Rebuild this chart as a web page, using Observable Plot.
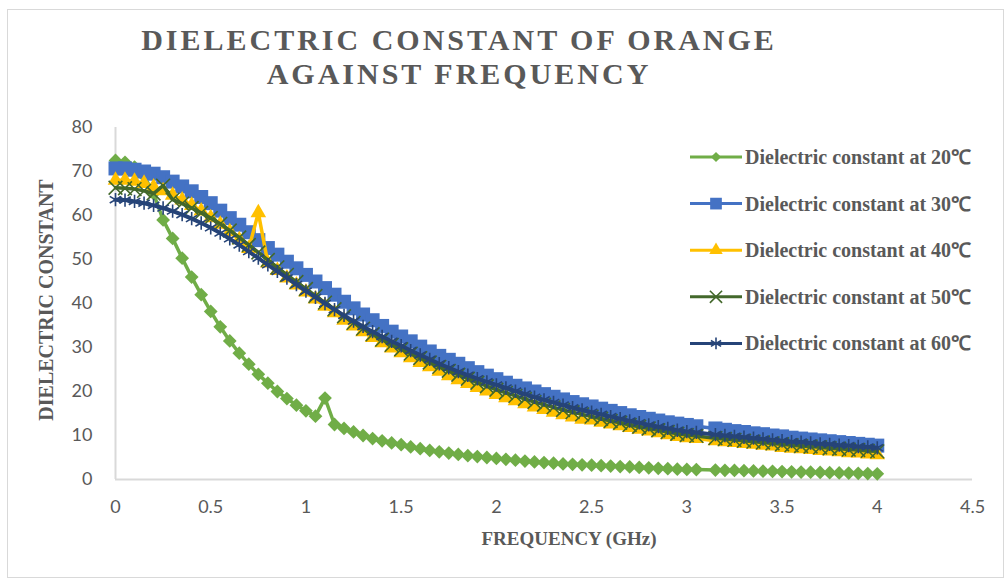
<!DOCTYPE html>
<html>
<head>
<meta charset="utf-8">
<script src="https://cdn.jsdelivr.net/npm/d3@7"></script>
<script src="https://cdn.jsdelivr.net/npm/@observablehq/plot@0.6"></script>
<style>
  body { margin: 0; background: #fff; }
  #wrap { position: relative; width: 1007px; height: 580px; overflow: hidden; background: #fff; }
  #frame { position: absolute; left: 7px; top: 9px; width: 997px; height: 569px; border: 1px solid #d9d9d9; box-sizing: border-box; }
  #wrap svg { position: absolute; left: 0; top: 0; }
</style>
</head>
<body>
<div id="wrap"><div id="frame"></div></div>
<script>
// ---- data ----
const freq = [0,0.05,0.1,0.15,0.2,0.25,0.3,0.35,0.4,0.45,0.5,0.55,0.6,0.65,0.7,0.75,0.8,0.85,0.9,0.95,
  1,1.05,1.1,1.15,1.2,1.25,1.3,1.35,1.4,1.45,1.5,1.55,1.6,1.65,1.7,1.75,1.8,1.85,1.9,1.95,
  2,2.05,2.1,2.15,2.2,2.25,2.3,2.35,2.4,2.45,2.5,2.55,2.6,2.65,2.7,2.75,2.8,2.85,2.9,2.95,
  3,3.05,3.1,3.15,3.2,3.25,3.3,3.35,3.4,3.45,3.5,3.55,3.6,3.65,3.7,3.75,3.8,3.85,3.9,3.95,4];

const eps20 = [72.5,72.1,71.0,69.0,65.0,59.0,54.8,50.3,46.0,42.0,
  38.2,34.7,31.5,28.7,26.2,23.9,21.9,20.0,18.4,16.9,
  15.6,14.4,18.5,12.5,11.6,10.8,10.0,9.3,8.8,8.3,
  7.9,7.4,7.0,6.6,6.3,6.0,5.7,5.4,5.2,5.0,
  4.8,4.6,4.4,4.2,4.0,3.85,3.7,3.55,3.45,3.35,
  3.25,3.15,3.05,2.95,2.85,2.75,2.65,2.55,2.45,2.35,
  2.3,2.25,null,2.15,2.1,2.05,2.0,1.95,1.9,1.85,
  1.8,1.75,1.7,1.65,1.6,1.55,1.5,1.45,1.4,1.35,1.3];

const eps30 = [70.7,70.7,70.4,70.0,69.5,68.7,67.7,66.6,65.5,64.2,
  62.8,61.1,59.4,57.9,56.2,54.4,52.6,51.1,49.5,48.0,
  46.5,45.0,43.5,42.0,40.4,38.9,37.5,36.2,34.9,33.6,
  32.5,31.4,30.2,29.1,28.1,27.2,26.3,25.3,24.4,23.6,
  22.8,22.0,21.3,20.7,20.0,19.4,18.8,18.2,17.6,17.1,
  16.6,16.1,15.6,15.1,14.6,14.2,13.8,13.4,13.0,12.7,
  12.4,12.1,null,11.6,11.3,11.0,10.8,10.5,10.3,10.0,
  9.8,9.5,9.3,9.1,8.9,8.7,8.5,8.3,8.1,7.9,7.7];

const eps40 = [68.0,68.0,67.8,67.3,66.5,65.6,64.6,63.5,62.3,61.0,
  59.5,58.0,56.3,54.5,52.5,60.6,49.2,47.5,45.8,44.2,
  42.6,41.0,39.4,37.9,36.2,34.9,33.6,32.3,31.1,29.9,
  28.8,27.7,26.6,25.6,24.6,23.6,22.7,21.8,20.9,20.1,
  19.3,18.6,17.9,17.2,16.5,15.9,15.3,14.7,14.2,13.7,
  13.5,13.0,12.6,12.2,11.8,11.4,11.0,10.6,10.2,9.8,
  9.5,9.3,null,8.8,8.6,8.4,8.2,8.0,7.8,7.6,
  7.3,7.1,7.0,6.8,6.6,6.5,6.3,6.1,6.0,5.8,5.6];

const eps50 = [66.3,66.2,66.0,65.6,65.0,66.8,63.6,62.7,61.7,60.6,
  59.4,58.1,56.6,55.0,53.3,51.6,49.9,48.2,46.5,44.9,
  43.3,41.7,40.2,38.7,37.1,35.6,34.3,33.0,31.8,30.6,
  29.6,28.6,27.6,26.6,25.6,24.7,23.8,22.9,22.0,21.2,
  20.4,19.7,19.0,18.3,17.6,17.0,16.4,15.8,15.3,14.8,
  14.3,13.8,13.3,12.9,12.4,12.0,11.6,11.2,10.8,10.4,
  10.1,9.9,null,9.4,9.2,9.0,8.8,8.6,8.4,8.2,
  8.0,7.8,7.6,7.5,7.3,7.1,7.0,6.8,6.7,6.5,6.4];

const eps60 = [63.6,63.5,63.2,62.8,62.3,61.7,61.0,60.2,59.3,58.3,
  57.2,56.0,54.7,53.3,51.8,50.3,48.8,47.3,45.8,44.3,
  42.8,41.4,40.0,38.6,37.3,36.0,34.8,33.6,32.5,31.4,
  30.4,29.3,28.3,27.3,26.3,25.4,24.5,23.7,22.9,22.2,
  21.5,20.8,20.1,19.4,18.7,18.1,17.5,16.9,16.3,15.8,
  15.3,14.8,14.3,13.8,13.3,12.9,12.4,12.0,11.6,11.2,
  10.9,10.7,null,10.2,10.0,9.8,9.6,9.4,9.2,9.0,
  8.8,8.6,8.5,8.3,8.1,8.0,7.8,7.7,7.5,7.4,7.2];

const seriesNames = ["Dielectric constant at 20\u2103","Dielectric constant at 30\u2103","Dielectric constant at 40\u2103","Dielectric constant at 50\u2103","Dielectric constant at 60\u2103"];
const seriesValues = [eps20, eps30, eps40, eps50, eps60];
const xTicks = [0,0.5,1,1.5,2,2.5,3,3.5,4,4.5];
const yTicks = [0,10,20,30,40,50,60,70,80];
const titleLines = ["DIELECTRIC CONSTANT OF ORANGE", "AGAINST FREQUENCY"];
const xTitle = "FREQUENCY (GHz)";
const yTitle = "DIELECTRIC CONSTANT";

// ---- styles ----
const colors = ["#70AD47","#4472C4","#FFC000","#43682B","#264478"];
const markerStyles = [
  {symbol: d3.symbolDiamond2, r: 6.2, fill: colors[0], stroke: "none"},
  {symbol: "square", r: 7.9, fill: colors[1], stroke: "none"},
  {symbol: "triangle", r: 5.8, fill: colors[2], stroke: "none"},
  {symbol: "times", r: 6.3, fill: "none", stroke: colors[3], strokeWidth: 1.6},
  {symbol: "asterisk", r: 6.3, fill: "none", stroke: colors[4], strokeWidth: 1.6}
];
const legendR = [4.6, 6.6, 5.0, 5.6, 5.6];

const table = seriesValues.map(arr => arr.map((v, i) => ({f: freq[i], v})).filter(d => d.v != null));

const marks = [
  Plot.ruleY([0], {stroke: "#d9d9d9", strokeWidth: 2}),
  Plot.ruleX([0], {stroke: "#d9d9d9", strokeWidth: 2})
];
table.forEach((rows, s) => {
  marks.push(Plot.line(rows, {x: "f", y: "v", stroke: colors[s], strokeWidth: s === 4 ? 4 : 3.5}));
  marks.push(Plot.dot(rows, {x: "f", y: "v", ...markerStyles[s]}));
});

const chart = Plot.plot({
  width: 1007, height: 580,
  marginLeft: 115, marginRight: 35, marginTop: 127, marginBottom: 101,
  style: {background: "transparent", fontFamily: "Lato", fontSize: "18px", color: "#595959", overflow: "visible"},
  x: {domain: [0, 4.5], ticks: xTicks, tickSize: 0, tickPadding: 21, label: null, tickFormat: d => String(d)},
  y: {domain: [0, 80], ticks: yTicks, tickSize: 0, tickPadding: 23, label: null, tickFormat: d => String(d)},
  marks
});
const wrap = document.getElementById("wrap");
wrap.appendChild(chart);

// ---- titles and legend overlay ----
const ov = d3.select(wrap).append("svg").attr("width", 1007).attr("height", 580);
const serif = "'Liberation Serif', 'Times New Roman', serif";
ov.selectAll("text.title").data(titleLines).join("text")
  .attr("x", 459).attr("y", (d, i) => 50 + i * 34)
  .attr("text-anchor", "middle").attr("font-family", serif).attr("font-weight", "bold")
  .attr("font-size", 30).attr("letter-spacing", 3).attr("fill", "#595959").text(d => d);
ov.append("text").attr("x", 569).attr("y", 545).attr("text-anchor", "middle")
  .attr("font-family", serif).attr("font-weight", "bold").attr("font-size", 19).attr("fill", "#595959").text(xTitle);
ov.append("text").attr("transform", "translate(53,300) rotate(-90)").attr("text-anchor", "middle")
  .attr("font-family", serif).attr("font-weight", "bold").attr("font-size", 20).attr("fill", "#595959").text(yTitle);

const symMap = {square: d3.symbolSquare, triangle: d3.symbolTriangle, times: d3.symbolTimes, asterisk: d3.symbolAsterisk};
const leg = ov.append("g");
seriesNames.forEach((name, s) => {
  const y = 157 + s * 46.6;
  const g = leg.append("g");
  g.append("line").attr("x1", 690).attr("x2", 742).attr("y1", y).attr("y2", y).attr("stroke", colors[s]).attr("stroke-width", 3);
  const m = markerStyles[s];
  const sym = typeof m.symbol === "string" ? symMap[m.symbol] : m.symbol;
  g.append("path").attr("transform", `translate(716,${y})`)
    .attr("d", d3.symbol(sym, Math.PI * legendR[s] * legendR[s])())
    .attr("fill", m.fill).attr("stroke", m.stroke).attr("stroke-width", m.strokeWidth || 0);
  g.append("text").attr("x", 745).attr("y", y + 7).attr("font-family", serif).attr("font-weight", "bold")
    .attr("font-size", 20).attr("fill", "#595959").text(name);
});
</script>
</body>
</html>
